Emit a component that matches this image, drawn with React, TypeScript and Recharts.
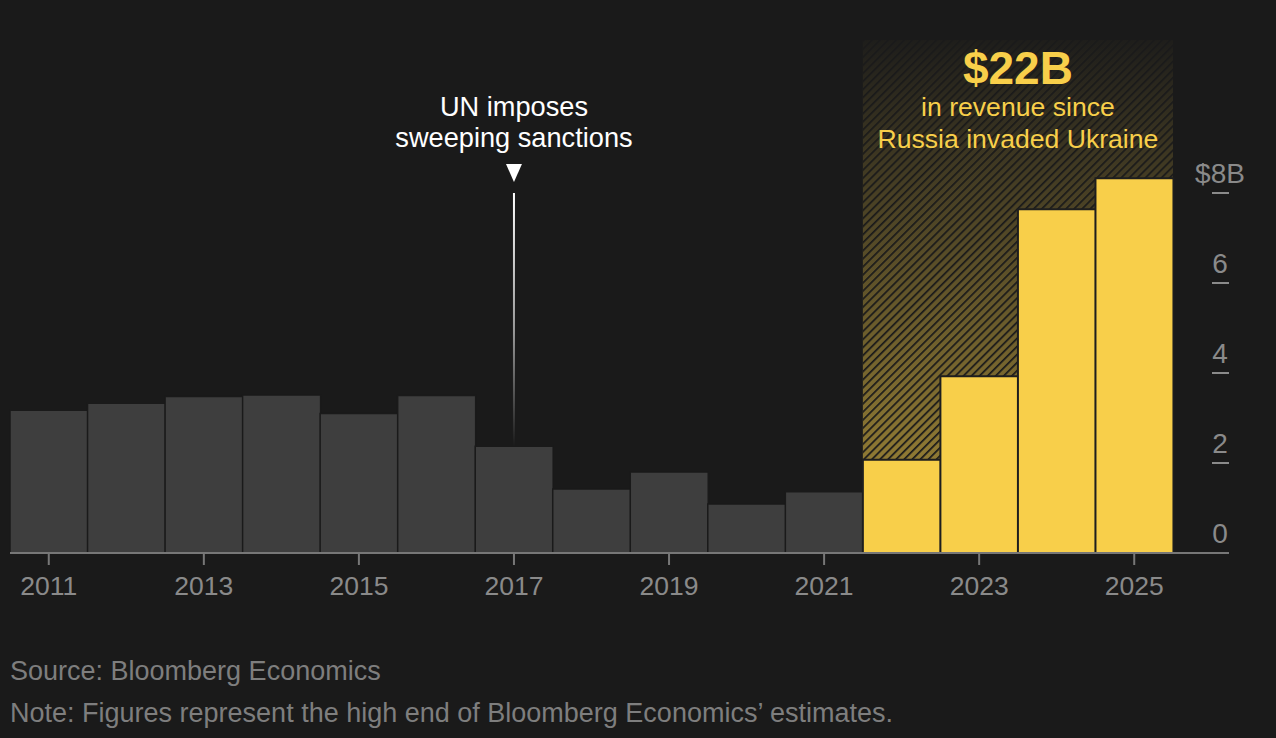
import React from 'react';
import { ComposedChart, Bar, Cell, XAxis, YAxis, ReferenceArea, ReferenceLine } from 'recharts';

// ---- data ----
const years = ['2011', '2012', '2013', '2014', '2015', '2016', '2017', '2018', '2019', '2020', '2021', '2022', '2023', '2024', '2025'];
const revenue = [3.17, 3.33, 3.48, 3.51, 3.1, 3.5, 2.37, 1.42, 1.8, 1.09, 1.36, 2.07, 3.93, 7.64, 8.33];
const yTicks = [0, 2, 4, 6, 8];
const yTickLabels = ['0', '2', '4', '6', '$8B'];
const highlightStart = '2022';
const highlightEnd = '2025';
const eventYear = '2017';
const eventTop = 8;
const eventLines = ['UN imposes', 'sweeping sanctions'];
const headline = '$22B';
const subLines = ['in revenue since', 'Russia invaded Ukraine'];
const sourceText = 'Source: Bloomberg Economics';
const noteText = 'Note: Figures represent the high end of Bloomberg Economics\u2019 estimates.';

const data = years.map((year, i) => ({ year, value: revenue[i] }));
const highlightIndex = years.indexOf(highlightStart);
const eventBottom = revenue[years.indexOf(eventYear)];

// ---- styles ----
const BG = '#1a1a1a';
const GREY = '#3e3e3e';
const YELLOW = '#f8cf4a';
const AXIS = '#777777';
const TICK = '#8a8a8a';
const FONT = "'Liberation Sans', Arial, Helvetica, sans-serif";

const YTick = (props: any) => {
  const { x, y, payload } = props;
  const label = yTickLabels[yTicks.indexOf(payload.value)];
  return (
    <g>
      {payload.value === 0 ? (
        <line x1={x} x2={x + 56} y1={y} y2={y} stroke={AXIS} strokeWidth={2} />
      ) : (
        <line x1={x + 39} x2={x + 56} y1={y} y2={y} stroke={TICK} strokeWidth={2} />
      )}
      <text x={x + 47} y={y - 10} textAnchor="middle" fill={TICK} fontSize={28} fontFamily={FONT}>
        {label}
      </text>
    </g>
  );
};

const renderHatchLabel = (props: any) => {
  const vb = props.viewBox || {};
  const cx = vb.x + vb.width / 2;
  const top = vb.y;
  return (
    <g>
      <text x={cx} y={top + 44} textAnchor="middle" fill={YELLOW} fontSize={46} fontWeight={700} fontFamily={FONT}>
        {headline}
      </text>
      {subLines.map((t, i) => (
        <text key={t} x={cx} y={top + 76 + i * 32} textAnchor="middle" fill={YELLOW} fontSize={26.6} fontFamily={FONT}>
          {t}
        </text>
      ))}
    </g>
  );
};

const renderEvent = (props: any) => {
  const { x1, y1, y2 } = props;
  const top = Math.min(y1, y2);
  const bottom = Math.max(y1, y2);
  return (
    <g>
      <rect x={x1 - 1} y={top} width={2} height={bottom - top} fill="url(#eventGrad)" />
      <polygon points={`${x1 - 8},${top - 29} ${x1 + 8},${top - 29} ${x1},${top - 11}`} fill="#ffffff" />
      {eventLines.map((t, i) => (
        <text key={t} x={x1} y={top - 77 + i * 31} textAnchor="middle" fill="#ffffff" fontSize={27.2} fontFamily={FONT}>
          {t}
        </text>
      ))}
    </g>
  );
};

export default function App() {
  return (
    <div style={{ position: 'absolute', left: 0, top: 0, width: 1276, height: 738, background: BG, fontFamily: FONT, overflow: 'hidden' }}>
      <ComposedChart
        width={1276}
        height={620}
        data={data}
        margin={{ top: 40, right: 47, left: 10, bottom: 27 }}
        barCategoryGap={0}
        barGap={0}
      >
        <defs>
          <linearGradient id="yellowGrad" x1="0" y1="0" x2="0" y2="1">
            <stop offset="0%" stopColor={YELLOW} stopOpacity={0.02} />
            <stop offset="100%" stopColor={YELLOW} stopOpacity={0.64} />
          </linearGradient>
          <pattern id="hatch" patternUnits="userSpaceOnUse" width="5.7" height="5.7" patternTransform="rotate(45)">
            <rect x="0" y="0" width="1.7" height="5.7" fill={BG} />
          </pattern>
          <linearGradient id="eventGrad" x1="0" y1="0" x2="0" y2="1">
            <stop offset="0%" stopColor="#ffffff" stopOpacity={1} />
            <stop offset="55%" stopColor="#ffffff" stopOpacity={0.55} />
            <stop offset="100%" stopColor="#ffffff" stopOpacity={0} />
          </linearGradient>
        </defs>
        <XAxis
          dataKey="year"
          interval={1}
          height={40}
          axisLine={{ stroke: AXIS, strokeWidth: 2 }}
          tickLine={{ stroke: AXIS, strokeWidth: 2 }}
          tickSize={12}
          tickMargin={11}
          tick={{ fill: TICK, fontSize: 26.5, fontFamily: FONT }}
        />
        <YAxis
          orientation="right"
          width={56}
          domain={[0, 11.4]}
          ticks={yTicks}
          axisLine={false}
          tickLine={false}
          tickSize={0}
          tickMargin={0}
          tick={<YTick />}
          allowDataOverflow
        />
        <ReferenceArea x1={highlightStart} x2={highlightEnd} fill="url(#yellowGrad)" fillOpacity={1} stroke="none" ifOverflow="visible" />
        <ReferenceArea
          x1={highlightStart}
          x2={highlightEnd}
          fill="url(#hatch)"
          fillOpacity={1}
          stroke="none"
          ifOverflow="visible"
          label={renderHatchLabel}
        />
        <Bar dataKey="value" isAnimationActive={false}>
          {data.map((d, i) => (
            <Cell
              key={d.year}
              fill={i >= highlightIndex ? YELLOW : GREY}
              stroke={i >= highlightIndex ? '#1e1e1e' : BG}
              strokeWidth={i >= highlightIndex ? 2 : 1.5}
            />
          ))}
        </Bar>
        <ReferenceLine
          segment={[
            { x: eventYear, y: eventTop },
            { x: eventYear, y: eventBottom },
          ]}
          shape={renderEvent}
          ifOverflow="visible"
        />
      </ComposedChart>
      <div style={{ position: 'absolute', left: 10, top: 655, fontSize: 27, lineHeight: '32px', color: '#7e7e7e', whiteSpace: 'nowrap' }}>
        {sourceText}
      </div>
      <div style={{ position: 'absolute', left: 10, top: 697, fontSize: 27, lineHeight: '32px', color: '#7e7e7e', whiteSpace: 'nowrap' }}>
        {noteText}
      </div>
    </div>
  );
}
